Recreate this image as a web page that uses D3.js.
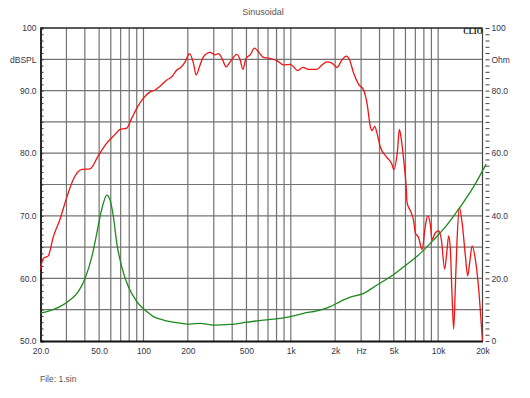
<!DOCTYPE html>
<html>
<head>
<meta charset="utf-8">
<script src="https://cdn.jsdelivr.net/npm/d3@7"></script>
<style>
  body { margin: 0; background: #fff; }
  svg text { font-family: "Liberation Sans", Arial, sans-serif; }
</style>
</head>
<body>
<div id="chart"></div>
<script>
// SPL response (red, left axis dBSPL)
var splFreq = [20, 20.9, 22.6, 24.4, 27.1, 30.1, 33.4, 38.1, 43.4, 49.4, 56.3, 64.1, 69.3, 77, 83.3, 90.1, 99.9,
  110.9, 119.9, 129.7, 144, 155.7, 168.4, 177.3, 191.7, 205, 218.3, 227.8, 239.8, 255.2, 283.6, 306.6, 322.8,
  340.4, 364, 387.8, 430.6, 453.4, 472.6, 497.8, 530, 567, 603, 653, 706, 805, 893, 991, 1044, 1111, 1208, 1319,
  1504, 1627, 1760, 1902, 2057, 2224, 2378, 2506, 2668, 2884, 3118, 3288, 3464, 3556, 3704, 3846, 4050, 4496,
  4862, 4986, 5300, 5452, 5600, 5830, 6082, 6150, 6474, 6818, 7002, 7374, 7776, 8186, 8488, 8852, 9092, 9572,
  10080, 10516, 11072, 11496, 11788, 12104, 12432, 12746, 13090, 13442, 13936, 14538, 15308, 15868, 16368,
  16994, 17900, 18846, 19880, 20000];
var splDb = [61.5, 63.2, 63.6, 66.6, 69.4, 72.9, 75.8, 77.4, 77.5, 79.6, 81.6, 83.0, 83.8, 84.0, 85.6, 87.2, 88.8,
  89.8, 90.1, 90.7, 91.7, 92.2, 93.3, 93.6, 94.6, 95.9, 94.4, 92.5, 93.8, 95.4, 96.1, 95.7, 95.9,
  95.2, 93.8, 94.6, 95.8, 94.9, 93.4, 95.2, 95.7, 96.8, 96.2, 95.3, 95.2, 94.8, 94.1, 94.2, 93.8, 93.2, 93.7, 93.4,
  93.4, 94.1, 94.6, 94.4, 93.7, 94.9, 95.5, 94.9, 92.8, 91.0, 90.1, 88.0, 84.3, 83.6, 84.3, 83.2, 81.0, 79.3,
  78.2, 77.4, 80.5, 83.8, 82.5, 79.0, 74.2, 72.1, 70.8, 69.2, 67.3, 66.5, 64.6, 68.4, 70.0, 68.6, 66.2, 67.3,
  67.6, 66.2, 61.5, 64.6, 66.8, 64.6, 57.2, 51.9, 58.8, 66.2, 71.3, 68.9, 63.6, 60.4, 62.5,
  65.2, 63.0, 58.3, 50.8, 50.0];

// impedance (green, right axis Ohm)
var impFreq = [20, 23.2, 27.1, 31.7, 36.1, 40.1, 44.6, 48.2, 51.3, 53.4, 56.3, 59.3, 62.5, 65.9, 71.2, 79, 90.1,
  105.3, 116.8, 136.6, 168.4, 207, 242.5, 298.6, 387.8, 503, 653, 847, 1044, 1220, 1504, 1852, 2166, 2534,
  3118, 3846, 4736, 5830, 7572, 9322, 11496, 14156, 17426, 21160];
var impOhm = [8.9, 9.7, 11.0, 13.1, 15.8, 20.0, 26.9, 34.4, 40.8, 44.0, 46.6, 45.0, 39.7, 31.2, 23.7, 17.3, 12.6,
  9.4, 7.8, 6.7, 5.85, 5.4, 5.65, 5.1, 5.3, 6.0, 6.7, 7.25, 8.0, 8.85, 9.6, 11.0, 12.6, 14.0,
  15.2, 17.9, 20.5, 23.7, 28.0, 32.3, 37.1, 42.9, 49.3, 56.5];

var freqTicks = [20, 50, 100, 200, 500, 1000, 2000, 3000, 5000, 10000, 20000];
var freqTickLabels = ["20.0", "50.0", "100", "200", "500", "1k", "2k", "Hz", "5k", "10k", "20k"];
var splTicks = [100, 95, 90, 80, 70, 60, 50];
var splTickLabels = ["100", "dBSPL", "90.0", "80.0", "70.0", "60.0", "50.0"];
var ohmTicks = [100, 90, 80, 60, 40, 20, 0];
var ohmTickLabels = ["100", "Ohm", "80.0", "60.0", "40.0", "20.0", "0"];

var W = 530, H = 398;
var plotL = 40.5, plotR = 482.5, plotT = 28, plotB = 341;
var labelColor = "#34344e";

var svg = d3.select("#chart").append("svg")
  .attr("width", W)
  .attr("height", H);

var x = d3.scaleLog().domain([20, 20000]).range([plotL, plotR]);
var ySpl = d3.scaleLinear().domain([50, 100]).range([plotB, plotT]);
var yOhm = d3.scaleLinear().domain([0, 100]).range([plotB, plotT]);

// grid
var gridFreqs = [];
[10, 100, 1000, 10000].forEach(function(dec) {
  for (var m = 1; m < 10; m++) {
    var f = dec * m;
    if (f > 20 && f < 20000) gridFreqs.push(f);
  }
});
svg.append("g").selectAll("line").data(gridFreqs)
  .enter().append("line")
  .attr("x1", function(d) { return x(d); })
  .attr("x2", function(d) { return x(d); })
  .attr("y1", plotT).attr("y2", plotB)
  .attr("stroke", "#737373").attr("stroke-width", 1.2);

svg.append("g").selectAll("line").data(d3.range(55, 100, 5))
  .enter().append("line")
  .attr("x1", plotL).attr("x2", plotR)
  .attr("y1", function(d) { return ySpl(d); })
  .attr("y2", function(d) { return ySpl(d); })
  .attr("stroke", "#737373").attr("stroke-width", 1.2);

// frame
svg.append("line").attr("x1", plotR).attr("x2", plotR).attr("y1", plotT).attr("y2", plotB)
  .attr("stroke", "#444").attr("stroke-width", 1.2);
svg.append("line").attr("x1", plotL).attr("x2", plotR).attr("y1", plotT).attr("y2", plotT)
  .attr("stroke", "#222").attr("stroke-width", 1.4);

// minor ticks
var minorL = svg.append("g").attr("transform", "translate(" + plotL + ",0)")
  .call(d3.axisLeft(ySpl).tickValues(d3.range(50, 101, 1)).tickSize(-3).tickFormat(""));
minorL.select(".domain").attr("stroke", "#111").attr("stroke-width", 1.8);
minorL.selectAll(".tick line").attr("stroke", "#333");

var minorR = svg.append("g").attr("transform", "translate(" + (plotR + 3) + ",0)")
  .call(d3.axisRight(yOhm).tickValues(d3.range(0, 101, 2)).tickSize(4).tickFormat(""));
minorR.select(".domain").remove();
minorR.selectAll(".tick line").attr("stroke", "#444");

// labels
var axL = svg.append("g").attr("transform", "translate(" + plotL + ",0)")
  .call(d3.axisLeft(ySpl).tickValues(splTicks).tickSize(0).tickPadding(4)
    .tickFormat(function(d, i) { return splTickLabels[i]; }));
axL.select(".domain").remove();
axL.selectAll("text").attr("font-size", 8.5).attr("fill", labelColor).attr("font-family", null);

var axR = svg.append("g").attr("transform", "translate(" + (plotR + 9) + ",0)")
  .call(d3.axisRight(yOhm).tickValues(ohmTicks).tickSize(0).tickPadding(0)
    .tickFormat(function(d, i) { return ohmTickLabels[i]; }));
axR.select(".domain").remove();
axR.selectAll("text").attr("font-size", 8.5).attr("fill", labelColor).attr("font-family", null);

var axB = svg.append("g").attr("transform", "translate(0," + plotB + ")")
  .call(d3.axisBottom(x).tickValues(freqTicks).tickSize(0).tickPadding(7)
    .tickFormat(function(d, i) { return freqTickLabels[i]; }));
axB.select(".domain").attr("stroke", "#111").attr("stroke-width", 1.8);
axB.selectAll("text").attr("font-size", 8.5).attr("fill", labelColor).attr("font-family", null);

// curves
var splLine = d3.line()
  .x(function(d) { return x(d[0]); })
  .y(function(d) { return ySpl(d[1]); })
  .curve(d3.curveMonotoneX);
var ohmLine = d3.line()
  .x(function(d) { return x(d[0]); })
  .y(function(d) { return yOhm(d[1]); })
  .curve(d3.curveMonotoneX);

svg.append("path")
  .attr("d", ohmLine(d3.zip(impFreq, impOhm)))
  .attr("fill", "none").attr("stroke", "#1d8a1d").attr("stroke-width", 1.3);
svg.append("path")
  .attr("d", splLine(d3.zip(splFreq, splDb)))
  .attr("fill", "none").attr("stroke", "#f01414").attr("stroke-width", 1.3);

// texts
svg.append("text")
  .attr("x", 263).attr("y", 15)
  .attr("text-anchor", "middle")
  .attr("font-size", 9).attr("fill", "#555")
  .text("Sinusoidal");

svg.append("text")
  .attr("x", 40).attr("y", 382)
  .attr("font-size", 8.5).attr("fill", "#555")
  .text("File: 1.sin");

svg.append("text")
  .attr("x", plotR).attr("y", 34)
  .attr("text-anchor", "end")
  .attr("font-size", 7.5).attr("font-weight", "bold")
  .style("font-family", "'Liberation Serif', 'Times New Roman', serif")
  .attr("fill", "#111")
  .text("CLIO");
</script>
</body>
</html>
